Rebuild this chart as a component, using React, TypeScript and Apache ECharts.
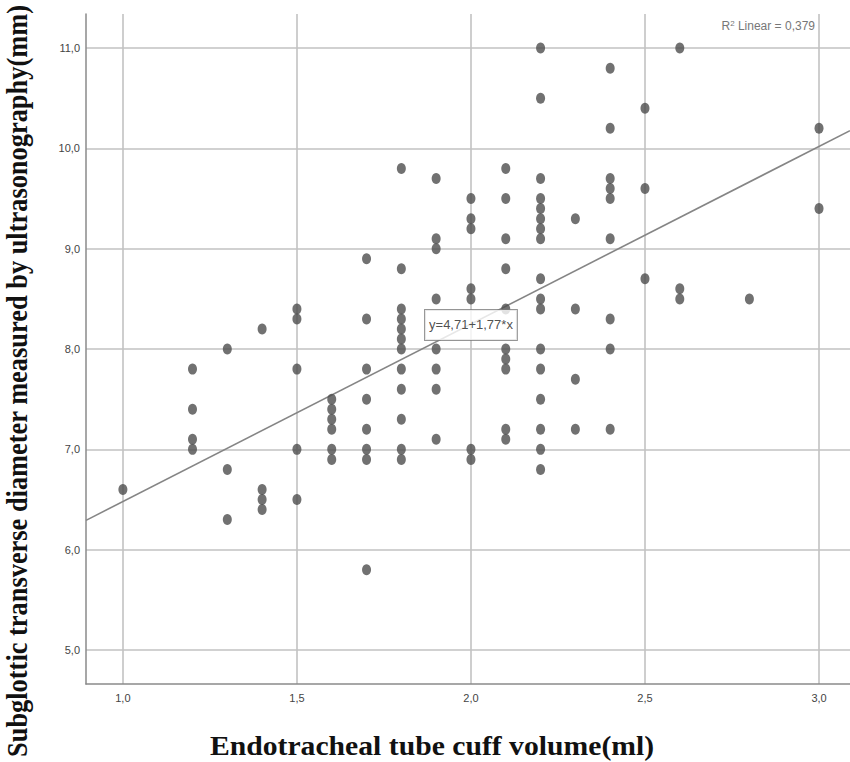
import React, { useEffect, useRef } from 'react';
import * as echarts from 'echarts';

// Endotracheal tube cuff volume (ml) levels and the diameters observed at each
const cuffLevels = [1.0, 1.2, 1.3, 1.4, 1.5, 1.6, 1.7, 1.8, 1.9, 2.0, 2.1, 2.2, 2.3, 2.4, 2.5, 2.6, 2.8, 3.0];
const diameterGroups = [
  [6.6],
  [7.8, 7.4, 7.1, 7.0],
  [8.0, 6.8, 6.3],
  [8.2, 6.6, 6.5, 6.4],
  [8.4, 8.3, 7.8, 7.0, 6.5],
  [7.5, 7.4, 7.3, 7.2, 7.0, 6.9],
  [8.9, 8.3, 7.8, 7.5, 7.2, 7.0, 6.9, 5.8],
  [9.8, 8.8, 8.4, 8.3, 8.2, 8.1, 8.0, 7.8, 7.6, 7.3, 7.0, 6.9],
  [9.7, 9.1, 9.0, 8.5, 8.0, 7.8, 7.6, 7.1],
  [9.5, 9.3, 9.2, 8.6, 8.5, 7.0, 6.9],
  [9.8, 9.5, 9.1, 8.8, 8.4, 8.0, 7.9, 7.8, 7.2, 7.1],
  [11.0, 10.5, 9.7, 9.5, 9.4, 9.3, 9.2, 9.1, 8.7, 8.5, 8.4, 8.0, 7.8, 7.5, 7.2, 7.0, 6.8],
  [9.3, 8.4, 7.7, 7.2],
  [10.8, 10.2, 9.7, 9.6, 9.5, 9.1, 8.3, 8.0, 7.2],
  [10.4, 9.6, 8.7],
  [11.0, 8.6, 8.5],
  [8.5],
  [10.2, 9.4],
];

const xTicks = [1.0, 1.5, 2.0, 2.5, 3.0];
const yTicks = [5.0, 6.0, 7.0, 8.0, 9.0, 10.0, 11.0];

const fitIntercept = 4.71;
const fitSlope = 1.77;
const rSquared = '0,379';
const equationLabel = 'y=4,71+1,77*x';
const equationAnchor = [2.0, 8.24];

const X_MIN = 0.894;
const X_MAX = 3.089;
const Y_MIN = 4.661;
const Y_MAX = 11.34;

const sans = "'Liberation Sans', Arial, sans-serif";
const serif = "'Liberation Serif', 'Times New Roman', serif";

const fmt = (v: number) => v.toFixed(1).replace('.', ',');

export default function App() {
  const ref = useRef<HTMLDivElement>(null);

  useEffect(() => {
    document.body.style.margin = '0';
    if (!ref.current) return;
    const chart = echarts.init(ref.current, undefined, { renderer: 'svg' });

    const points: number[][] = [];
    cuffLevels.forEach((x, i) => {
      diameterGroups[i].forEach((y) => points.push([x, y]));
    });

    const fitLine = [
      [X_MIN, fitIntercept + fitSlope * X_MIN],
      [X_MAX, fitIntercept + fitSlope * X_MAX],
    ];

    chart.setOption({
      animation: false,
      backgroundColor: '#ffffff',
      grid: { left: 86, right: 0, top: 14, bottom: 78, containLabel: false },
      xAxis: {
        type: 'value',
        min: X_MIN,
        max: X_MAX,
        axisLine: { show: true, onZero: false, lineStyle: { color: '#8a8a8a', width: 1.5 } },
        axisTick: { show: false, customValues: xTicks },
        axisLabel: {
          customValues: xTicks,
          formatter: fmt,
          color: '#444',
          fontFamily: sans,
          fontSize: 11,
          margin: 8,
        },
        splitLine: { show: true, lineStyle: { color: '#c2c2c2', width: 1.6 } },
      },
      yAxis: {
        type: 'value',
        min: Y_MIN,
        max: Y_MAX,
        axisLine: { show: true, onZero: false, lineStyle: { color: '#8a8a8a', width: 1.5 } },
        axisTick: { show: false, customValues: yTicks },
        axisLabel: {
          customValues: yTicks,
          formatter: fmt,
          color: '#444',
          fontFamily: sans,
          fontSize: 11,
          margin: 6,
        },
        splitLine: { show: true, lineStyle: { color: '#c2c2c2', width: 1.6 } },
      },
      series: [
        {
          type: 'line',
          data: fitLine,
          symbol: 'none',
          lineStyle: { color: '#858585', width: 1.6 },
          z: 2,
        },
        {
          type: 'scatter',
          data: points,
          symbol: 'circle',
          symbolSize: [9, 11],
          itemStyle: { color: '#4e4e4e' },
          z: 3,
        },
        {
          type: 'scatter',
          data: [equationAnchor],
          symbolSize: 0,
          z: 5,
          label: {
            show: true,
            position: 'inside',
            formatter: equationLabel,
            fontFamily: sans,
            fontSize: 13,
            color: '#222',
            backgroundColor: '#ffffff',
            borderColor: '#7a7a7a',
            borderWidth: 1,
            padding: [9, 4, 8, 4],
          },
        },
      ],
      graphic: [
        {
          type: 'text',
          x: 815,
          y: 26,
          style: {
            text: 'R{sup|2} Linear = ' + rSquared,
            align: 'right',
            verticalAlign: 'middle',
            fontFamily: sans,
            fontSize: 12,
            fill: '#777',
            rich: {
              sup: { fontSize: 8, verticalAlign: 'top', fill: '#777', fontFamily: sans, padding: [0, 0, 6, 0] },
            },
          },
        },
        {
          type: 'text',
          x: 17,
          y: 381,
          rotation: Math.PI / 2,
          scaleX: 0.88,
          style: {
            text: 'Subglottic transverse diameter measured by ultrasonography(mm)',
            align: 'center',
            verticalAlign: 'middle',
            fontFamily: serif,
            fontWeight: 'bold',
            fontSize: 30,
            fill: '#111',
          },
        },
        {
          type: 'text',
          x: 432,
          y: 745,
          scaleX: 1.06,
          style: {
            text: 'Endotracheal tube cuff volume(ml)',
            align: 'center',
            verticalAlign: 'middle',
            fontFamily: serif,
            fontWeight: 'bold',
            fontSize: 28,
            fill: '#111',
          },
        },
      ],
    });

    return () => chart.dispose();
  }, []);

  return <div ref={ref} style={{ width: 850, height: 762 }} />;
}
